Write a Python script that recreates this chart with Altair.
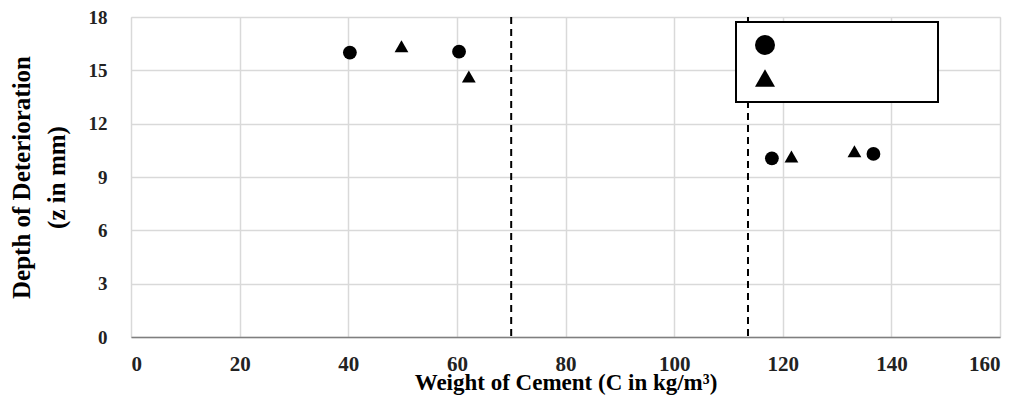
import altair as alt
import pandas as pd

# data
circle_x = [40.3, 60.4, 118.0, 136.7]
circle_y = [16.0, 16.05, 10.05, 10.3]
tri_x = [49.8, 62.2, 121.6, 133.2]
tri_y = [16.35, 14.65, 10.15, 10.45]
series_names = ["Series 1", "Series 2"]
dashed_x = [70.0, 113.6]

x_ticks = list(range(0, 161, 20))
y_ticks = list(range(0, 19, 3))

pts = pd.DataFrame({
    "x": circle_x + tri_x,
    "y": circle_y + tri_y,
    "s": [series_names[0]] * len(circle_x) + [series_names[1]] * len(tri_x),
})
lines = pd.DataFrame({"x": dashed_x})

FONT = "Liberation Serif"

xscale = alt.Scale(domain=[0, 160], nice=False)
yscale = alt.Scale(domain=[0, 18], nice=False)

points = alt.Chart(pts).mark_point(filled=True, opacity=1, size=190, color="black").encode(
    x=alt.X("x:Q", scale=xscale,
            axis=alt.Axis(values=x_ticks, title="Weight of Cement (C in kg/m³)",
                          titleFontSize=23, titlePadding=-3, titleFont=FONT, titleFontWeight="bold",
                          labelFontSize=21, labelFont=FONT, labelFontWeight="bold", labelPadding=16,
                          ticks=False, domainColor="#7f7f7f", domainWidth=1.5,
                          gridColor="#d9d9d9", gridWidth=1.5, labelColor="#222")),
    y=alt.Y("y:Q", scale=yscale,
            axis=alt.Axis(values=y_ticks, title=["Depth of Deterioration", "(z in mm)"],
                          titleFontSize=25, titleFont=FONT, titleFontWeight="bold",
                          titleX=-110, titleY=160, titleAlign="center", titleBaseline="middle",
                          titleLineHeight=35,
                          labelFontSize=19, labelFont=FONT, labelFontWeight="bold", labelPadding=24,
                          ticks=False, domain=False,
                          gridColor="#d9d9d9", gridWidth=1.5, labelColor="#222")),
    shape=alt.Shape("s:N", scale=alt.Scale(domain=series_names, range=["circle", "triangle-up"]),
                    legend=alt.Legend(title=None, orient="none", legendX=605, legendY=5,
                                      strokeColor="black", fillColor="white",
                                      padding=12, rowPadding=8, symbolSize=400,
                                      symbolFillColor="black", symbolStrokeColor="black",
                                      symbolOffset=6, labelOffset=150,
                                      labelExpr="'\u00a0'",
                                      labelFontSize=18, labelFont=FONT)),
)

rules = alt.Chart(lines).mark_rule(color="black", strokeDash=[7, 5], strokeWidth=2).encode(
    x=alt.X("x:Q", scale=xscale)
)

chart = alt.layer(rules, points).properties(
    width=869, height=320,
    autosize=alt.AutoSizeParams(type="none"),
    padding={"left": 123, "top": 9, "right": 10, "bottom": 60},
).configure_view(stroke="#bfbfbf", strokeWidth=1.5).configure(background="white").configure_legend(strokeWidth=2)

chart.save("out.html", embed_options={"renderer": "svg", "actions": False})
